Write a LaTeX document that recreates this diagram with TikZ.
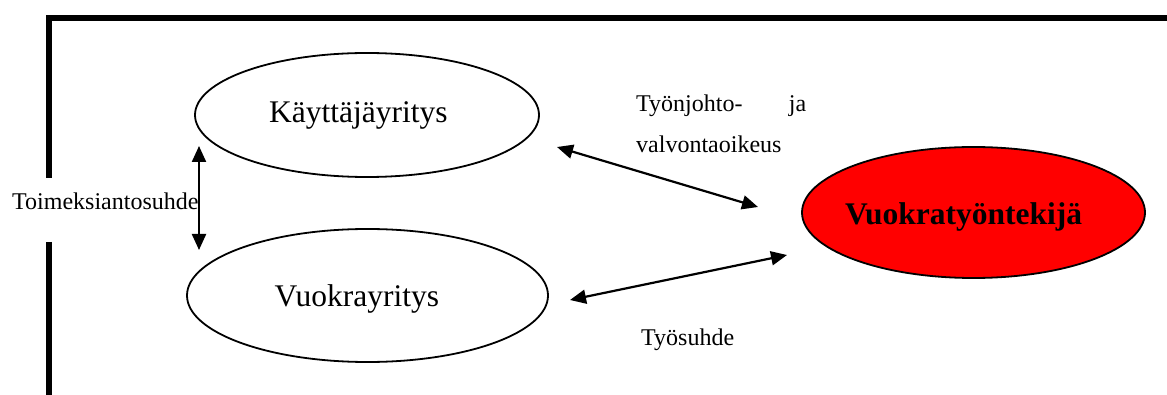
\documentclass[tikz,border=0pt]{standalone}
\usepackage{fontspec}
\setmainfont{Liberation Serif}
\usetikzlibrary{shapes.geometric,arrows.meta,calc}
\definecolor{workerred}{RGB}{255,0,0}

\begin{document}
\begin{tikzpicture}[x=1pt,y=-1pt,
  frame/.style={line width=5.5pt},
  oval/.style={ellipse, draw, line width=1.8pt, inner sep=0pt},
  link/.style={line width=2.2pt,
    {Triangle[length=16pt,width=14pt]}-{Triangle[length=16pt,width=14pt]}},
  small/.style={inner sep=0pt, anchor=base west, font=\rmfamily\fontsize{24}{28}\selectfont},
  big/.style={inner sep=0pt, anchor=base west, font=\rmfamily\fontsize{31.5}{36}\selectfont},
  bigbold/.style={inner sep=0pt, anchor=base west, font=\rmfamily\fontsize{31.5}{36}\selectfont\bfseries}]

  \useasboundingbox (0,0) rectangle (1167,395);

  % open frame: top edge and a broken left edge
  \draw[frame] (49,178) -- (49,18) -- (1175,18);
  \draw[frame] (49,242) -- (49,400);

  % the three parties
  \node[oval, minimum width=344pt, minimum height=124pt] (kay) at (367,115) {};
  \node[oval, minimum width=361pt, minimum height=133pt] (vuo) at (367.5,295.5) {};
  \node[oval, fill=workerred, minimum width=343pt, minimum height=131pt] (wrk) at (973.5,212.5) {};

  \node[big] (kayt) at ($(kay.center)+(-98,8)$) {Käyttäjäyritys};
  \node[big] (vuot) at ($(vuo.center)+(-93,10.5)$) {Vuokrayritys};
  \node[bigbold] (wrkt) at ($(wrk.center)+(-128.5,12.5)$) {Vuokratyöntekijä};

  % arrow end points
  \coordinate (a1) at ($(kay.center)+(-168,31)$);
  \coordinate (a2) at ($(vuo.center)+(-168.5,-45.5)$);
  \coordinate (b1) at ($(kay.center)+(190,32)$);
  \coordinate (b2) at ($(wrk.center)+(-215.5,-5.5)$);
  \coordinate (c1) at ($(vuo.center)+(202.5,4.5)$);
  \coordinate (c2) at ($(wrk.center)+(-186.5,42.5)$);

  % relations
  \draw[link] (a1) -- (a2);
  \draw[link] (b1) -- (b2);
  \draw[link] (c1) -- (c2);

  % relation labels
  \node[small] (toim) at (12,210) {Toimeksiantosuhde};
  \node[small] (tj1) at (636,112) {\makebox[170pt][s]{Työnjohto- ja}};
  \node[small] (tj2) at (636,153) {valvontaoikeus};
  \node[small] (ts) at (641,345) {Työsuhde};
\end{tikzpicture}
\end{document}
